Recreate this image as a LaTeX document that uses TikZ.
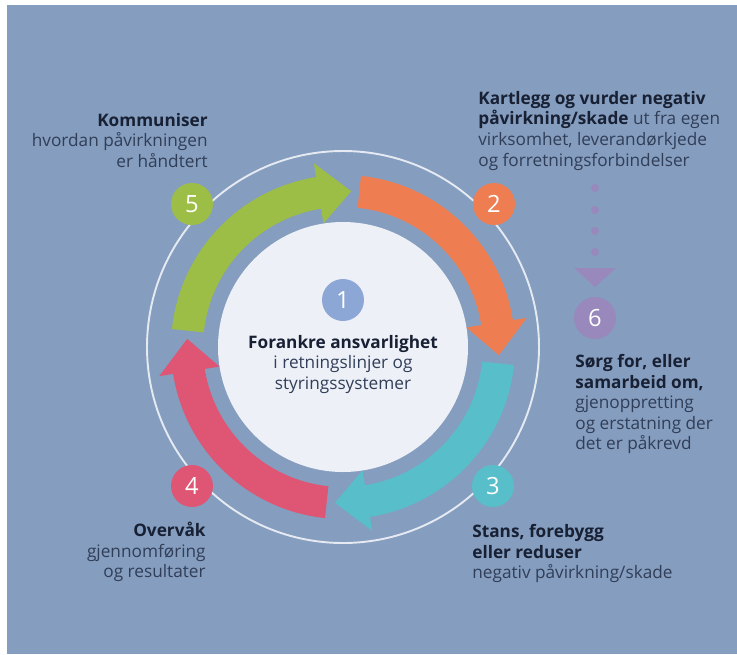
\documentclass[tikz,border=0pt]{standalone}
\usepackage{fontspec}
\setmainfont{Open Sans}
\definecolor{panelblue}{RGB}{133,157,190}
\definecolor{ringwhite}{RGB}{228,233,242}
\definecolor{diskwhite}{RGB}{237,240,247}
\definecolor{arrowgreen}{RGB}{157,190,70}
\definecolor{arroworange}{RGB}{238,126,82}
\definecolor{arrowteal}{RGB}{88,190,202}
\definecolor{arrowred}{RGB}{222,86,116}
\definecolor{badgeblue}{RGB}{140,166,214}
\definecolor{purplesix}{RGB}{152,136,188}
\definecolor{boldtxt}{RGB}{24,32,52}
\definecolor{regtxt}{RGB}{48,62,88}
\tikzset{
  badge/.style={circle, minimum size=0.84cm, inner sep=0pt, text=white, font=\fontsize{13.5}{15}\selectfont},
  stepnote/.style={inner sep=0pt, font=\fontsize{9.8}{11.7}\selectfont, text=regtxt},
}
\newcommand{\headline}[1]{{\bfseries\color{boldtxt}#1}}
\begin{document}
\begin{tikzpicture}[x=0.02cm, y=0.02cm]
\useasboundingbox (-343,-307) rectangle (394,347);
\fill[panelblue] (-336,-307) rectangle (394,342);
\draw[ringwhite, line width=1.1pt] (0,0) circle[radius=196];
\fill[diskwhite] (0,0) circle[radius=125];
% the four arrows, clockwise
\fill[arrowgreen] (174:172) arc[start angle=174, end angle=99, radius=172] -- (99:186) -- (87:156) -- (99:125) -- (99:140) arc[start angle=99, end angle=174, radius=140] -- cycle;
\fill[arroworange] (84:172) arc[start angle=84, end angle=9, radius=172] -- (9:186) -- (-3:156) -- (9:125) -- (9:140) arc[start angle=9, end angle=84, radius=140] -- cycle;
\fill[arrowteal] (-6:172) arc[start angle=-6, end angle=-81, radius=172] -- (-81:186) -- (-93:156) -- (-81:125) -- (-81:140) arc[start angle=-81, end angle=-6, radius=140] -- cycle;
\fill[arrowred] (-96:172) arc[start angle=-96, end angle=-171, radius=172] -- (-171:186) -- (-183:156) -- (-171:125) -- (-171:140) arc[start angle=-171, end angle=-96, radius=140] -- cycle;
% numbers
\node[badge, fill=badgeblue] (n1) at (0,47) {1};
\node[badge, fill=arroworange] (n2) at (151,143) {2};
\node[badge, fill=arrowteal] (n3) at (150,-139) {3};
\node[badge, fill=arrowred] (n4) at (-151,-139) {4};
\node[badge, fill=arrowgreen] (n5) at (-151,143) {5};
\node[badge, fill=purplesix] (n6) at (252,29) {6};
% dotted pointer to 6
\foreach \y in {159,137,116,95}
  \fill[purplesix] (252,\y) circle[radius=4];
\fill[purplesix] (231,79) -- (273,79) -- (252,60) -- cycle;
% texts
\node[stepnote, anchor=north, align=center] (t1) at (0,12) {\headline{Forankre ansvarlighet}\\i retningslinjer og\\styringssystemer};
\node[stepnote, anchor=north west, align=left] (t2) at (135,256) {\headline{Kartlegg og vurder negativ}\\\headline{påvirkning/skade} ut fra egen\\virksomhet, leverandørkjede\\og forretningsforbindelser};
\node[stepnote, anchor=north west, align=left] (t3) at (129,-177) {\headline{Stans, forebygg}\\\headline{eller reduser}\\negativ påvirkning/skade};
\node[stepnote, anchor=north east, align=right] (t4) at (-137,-175) {\headline{Overvåk}\\gjennomføring\\og resultater};
\node[stepnote, anchor=north east, align=right] (t5) at (-135,234) {\headline{Kommuniser}\\hvordan påvirkningen\\er håndtert};
\node[stepnote, anchor=north west, align=left] (t6) at (232,-7) {\headline{Sørg for, eller}\\\headline{samarbeid om,}\\gjenoppretting\\og erstatning der\\det er påkrevd};
\end{tikzpicture}
\end{document}
